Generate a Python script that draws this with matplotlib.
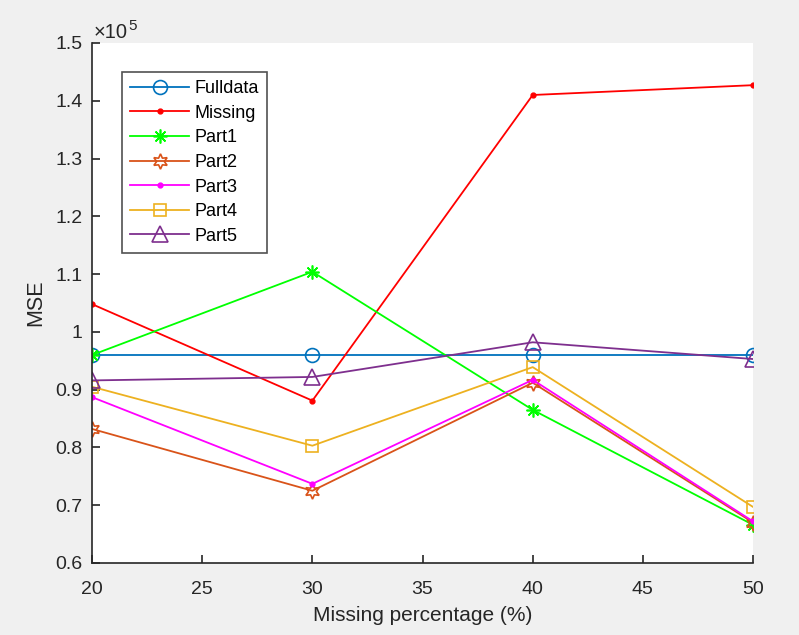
import matplotlib
matplotlib.use('Agg')
import matplotlib.pyplot as plt

# values
missing_pct = [20, 30, 40, 50]
fulldata = [0.960, 0.960, 0.960, 0.960]
missing = [1.048, 0.881, 1.410, 1.427]
part1 = [0.960, 1.104, 0.865, 0.666]
part2 = [0.832, 0.725, 0.912, 0.670]
part3 = [0.887, 0.737, 0.917, 0.672]
part4 = [0.905, 0.803, 0.939, 0.697]
part5 = [0.916, 0.922, 0.982, 0.953]

plt.rcParams['font.family'] = ['Liberation Sans', 'DejaVu Sans']
axis_col = '#262626'

fig = plt.figure(figsize=(7.99, 6.35), dpi=100, facecolor='#f0f0f0')
ax = fig.add_axes([0.1152, 0.1134, 0.8273, 0.8189])

lw = 1.3
ax.plot(missing_pct, fulldata, color='#0072BD', marker='o', ms=10, mfc='none', mew=1.2, lw=lw, label='Fulldata')
ax.plot(missing_pct, missing, color='#FF0000', marker='.', ms=7, lw=lw, label='Missing')
ax.plot(missing_pct, part1, color='#00FF00', marker=(8, 2, 0), ms=10, mew=1.2, lw=lw, label='Part1')
ax.plot(missing_pct, part2, color='#D95319', marker=(6, 1, 0), ms=11, mfc='none', mew=1.2, lw=lw, label='Part2')
ax.plot(missing_pct, part3, color='#FF00FF', marker='.', ms=7, lw=lw, label='Part3')
ax.plot(missing_pct, part4, color='#EDB120', marker='s', ms=9, mfc='none', mew=1.2, lw=lw, label='Part4')
ax.plot(missing_pct, part5, color='#7E2F8E', marker='^', ms=11, mfc='none', mew=1.2, lw=lw, label='Part5')

ax.set_xlim(20, 50)
ax.set_ylim(0.6, 1.5)
ax.set_xticks([20, 25, 30, 35, 40, 45, 50])
ax.set_yticks([0.6, 0.7, 0.8, 0.9, 1.0, 1.1, 1.2, 1.3, 1.4, 1.5])
ax.set_yticklabels(['0.6', '0.7', '0.8', '0.9', '1', '1.1', '1.2', '1.3', '1.4', '1.5'])

for side in ['top', 'right']:
    ax.spines[side].set_visible(False)
for side in ['left', 'bottom']:
    ax.spines[side].set_color(axis_col)
    ax.spines[side].set_linewidth(1.2)
ax.tick_params(direction='in', length=6, width=1.2, colors=axis_col, labelsize=14)
ax.tick_params(axis='x', pad=13)
ax.tick_params(axis='y', pad=7)

ax.set_xlabel('Missing percentage (%)', fontsize=15, color=axis_col, labelpad=6)
ax.set_ylabel('MSE', fontsize=15.5, color=axis_col, labelpad=6)

# exponent label above the y axis
ax.annotate('×10', xy=(0, 1), xycoords='axes fraction', xytext=(1, 1),
            textcoords='offset points', fontsize=14.5, color=axis_col, ha='left', va='bottom')
ax.annotate('5', xy=(0, 1), xycoords='axes fraction', xytext=(26, 7.5),
            textcoords='offset points', fontsize=11, color=axis_col, ha='left', va='bottom')

leg = ax.legend(loc='upper left', bbox_to_anchor=(0.045, 0.944), fontsize=13,
                frameon=True, fancybox=False, edgecolor=axis_col, handlelength=3.3,
                labelspacing=0.42, borderpad=0.45, handletextpad=0.25, borderaxespad=0)
leg.get_frame().set_linewidth(1.2)

plt.savefig('out.png', dpi=100, facecolor=fig.get_facecolor())
